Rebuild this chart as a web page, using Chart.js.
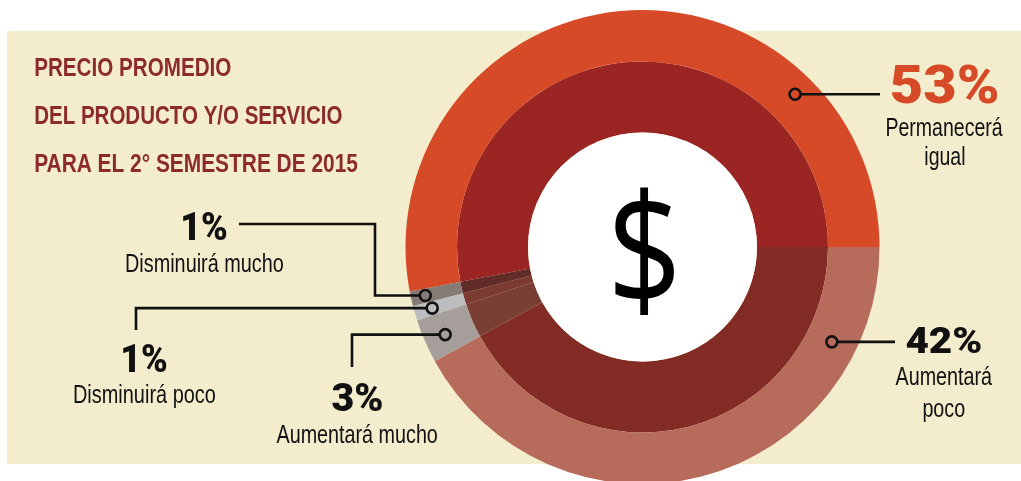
<!DOCTYPE html>
<html lang="es">
<head>
<meta charset="utf-8">
<title>Precio promedio del producto y/o servicio</title>
<script src="https://cdn.jsdelivr.net/npm/chart.js@4.4.1/dist/chart.umd.min.js"></script>
<style>
  html, body { margin: 0; padding: 0; background: #ffffff; overflow: hidden; }
  #wrap { width: 1021px; height: 481px; overflow: hidden; }
  canvas { display: block; }
</style>
</head>
<body>
<div id="wrap"><canvas id="precioChart" width="1021" height="490"></canvas></div>
<script>
// datos (en el orden del dibujo, desde las 3 en punto y en sentido horario)
const categories = ['Aumentará poco', 'Aumentará mucho', 'Disminuirá poco', 'Disminuirá mucho', 'Permanecerá igual'];
const percentages = [42, 3, 1, 1, 53];
const titleLines = ['PRECIO PROMEDIO', 'DEL PRODUCTO Y/O SERVICIO', 'PARA EL 2° SEMESTRE DE 2015'];
const centerSymbol = '$';

// colores del anillo exterior e interior
const outerColors = ['#b76b5a', '#a69e9b', '#bbbdbe', '#847b77', '#d64a28'];
const innerColors = ['#832c25', '#7b3e35', '#7c3b31', '#612c28', '#9b2522'];

// posicion de cada etiqueta (mismo orden que categories)
const labelLayout = [
    { cx: 944, numBase: 353, numW: 75, numSize: 36, numColor: '#111', wrap: true, lineBase: [385, 417], lineW: 97, marker: [0.176, 0.51], path: [['h', 895]] },
    { cx: 357, numBase: 411, numW: 51, numSize: 39, numColor: '#111', wrap: false, lineBase: [443], lineW: 161, marker: [0.45, 0.59], path: [['h', 352], ['v', 367]] },
    { cx: 145, numBase: 372, numW: 44, numSize: 39, numColor: '#111', wrap: false, lineBase: [403], lineW: 141, marker: [0.5, 0.65], path: [['h', 136], ['v', 330]] },
    { cx: 205, numBase: 240, numW: 44, numSize: 39, numColor: '#111', wrap: false, lineBase: [272], lineW: 157, marker: [0.5, 0.72], path: [['h', 375], ['v', 224], ['h', 239]] },
    { cx: 945, numBase: 103, numW: 106, numSize: 53, numColor: '#d64a28', wrap: true, lineBase: [136, 165], lineW: 116, marker: [0.764, 0.59], path: [['h', 880]] }
];

const narrow = '"Liberation Sans Narrow", "Liberation Sans", Arial, sans-serif';
const heavy = 'Roboto, "Liberation Sans", Arial, sans-serif';

// dibuja texto ajustando el ancho de la tinta (letra condensada)
function drawFit(ctx, text, x, baseline, font, width, color, align, forcedScale) {
    ctx.save();
    ctx.font = font;
    ctx.fillStyle = color;
    ctx.textAlign = 'left';
    ctx.textBaseline = 'alphabetic';
    const m = ctx.measureText(text);
    const abl = m.actualBoundingBoxLeft, abr = m.actualBoundingBoxRight;
    const sx = forcedScale || (width ? width / (abl + abr) : 1);
    let ox;
    if (align === 'left') ox = x + abl * sx;
    else ox = x - sx * (abr - abl) / 2;
    ctx.translate(ox, baseline);
    ctx.scale(sx, 1);
    ctx.fillText(text, 0, 0);
    ctx.restore();
    return sx;
}

const backgroundPlugin = {
    id: 'fondo',
    beforeDraw(chart) {
        const ctx = chart.ctx;
        ctx.save();
        ctx.fillStyle = '#ffffff';
        ctx.fillRect(0, 0, chart.width, chart.height);
        ctx.fillStyle = '#f3edce';
        ctx.fillRect(7, 31, chart.width - 7, 433);
        ctx.restore();
    }
};

const annotationsPlugin = {
    id: 'anotaciones',
    afterDatasetsDraw(chart) {
        const ctx = chart.ctx;
        const inner = chart.getDatasetMeta(1).data[0].getProps(['x', 'y', 'innerRadius'], true);

        // circulo blanco central con el signo
        ctx.save();
        ctx.fillStyle = '#ffffff';
        ctx.beginPath();
        ctx.arc(inner.x, inner.y, inner.innerRadius, 0, Math.PI * 2);
        ctx.fill();
        ctx.font = '400 100px "Open Sans", "Noto Sans", sans-serif';
        ctx.textAlign = 'left';
        ctx.textBaseline = 'alphabetic';
        const m = ctx.measureText(centerSymbol);
        const gw = m.actualBoundingBoxLeft + m.actualBoundingBoxRight;
        const gh = m.actualBoundingBoxAscent + m.actualBoundingBoxDescent;
        const sx = 60 / gw, sy = 130 / gh;
        ctx.translate(615 + m.actualBoundingBoxLeft * sx, 185 + m.actualBoundingBoxAscent * sy);
        ctx.scale(sx, sy);
        ctx.fillStyle = '#000';
        ctx.fillText(centerSymbol, 0, 0);
        ctx.restore();

        // marcadores, lineas y etiquetas
        const outerArcs = chart.getDatasetMeta(0).data;
        outerArcs.forEach((arc, i) => {
            const p = arc.getProps(['x', 'y', 'startAngle', 'endAngle', 'innerRadius', 'outerRadius'], true);
            const lay = labelLayout[i];
            const ang = p.startAngle + (p.endAngle - p.startAngle) * lay.marker[0];
            const r = p.innerRadius + (p.outerRadius - p.innerRadius) * lay.marker[1];
            const mx = p.x + Math.cos(ang) * r;
            const my = p.y + Math.sin(ang) * r;
            const mr = 5.5;

            ctx.save();
            ctx.strokeStyle = '#111';
            ctx.lineWidth = 2.6;
            ctx.beginPath();
            ctx.arc(mx, my, mr, 0, Math.PI * 2);
            ctx.stroke();

            const firstH = lay.path[0][1];
            let cx = mx + (firstH > mx ? mr : -mr), cy = my;
            ctx.beginPath();
            ctx.moveTo(cx, cy);
            lay.path.forEach(([dir, v]) => {
                if (dir === 'h') cx = v; else cy = v;
                ctx.lineTo(cx, cy);
            });
            ctx.stroke();
            ctx.restore();

            drawFit(ctx, percentages[i] + '%', lay.cx, lay.numBase, '900 ' + lay.numSize + 'px ' + heavy, lay.numW, lay.numColor, 'center');
            const name = categories[i];
            const lines = lay.wrap ? [name.slice(0, name.indexOf(' ')), name.slice(name.indexOf(' ') + 1)] : [name];
            let s = null;
            lines.forEach((t, k) => {
                const res = drawFit(ctx, t, lay.cx, lay.lineBase[k], '26px ' + narrow, k === 0 ? lay.lineW : null, '#111', 'center', s);
                if (k === 0) s = res;
            });
        });
    },
    afterDraw(chart) {
        const ctx = chart.ctx;
        const bases = [76, 124, 172];
        const widths = [196, 307, 323];
        titleLines.forEach((t, k) => {
            drawFit(ctx, t, 35, bases[k], 'bold 25px ' + narrow, widths[k], '#8d2a2b', 'left');
        });
    }
};

new Chart(document.getElementById('precioChart'), {
    type: 'doughnut',
    data: {
        labels: categories,
        datasets: [
            { data: percentages, backgroundColor: outerColors, borderWidth: 0, weight: 51.5 },
            { data: percentages, backgroundColor: innerColors, borderWidth: 0, weight: 71 }
        ]
    },
    options: {
        responsive: false,
        animation: false,
        devicePixelRatio: 1,
        rotation: 90,
        cutout: '48.3%',
        layout: { padding: { left: 405.5, right: 141.5, top: 10, bottom: 6 } },
        plugins: {
            legend: { display: false },
            tooltip: { enabled: false },
            title: { display: false }
        }
    },
    plugins: [backgroundPlugin, annotationsPlugin]
});
</script>
</body>
</html>
